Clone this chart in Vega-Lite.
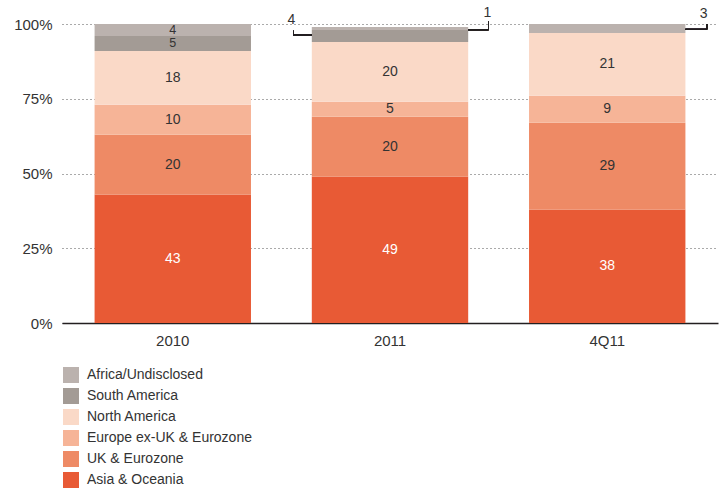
{
  "$schema": "https://vega.github.io/schema/vega-lite/v6.json",
  "width": 656,
  "height": 299,
  "autosize": "none",
  "padding": {"left": 62, "top": 24, "right": 2, "bottom": 166},
  "config": {
    "font": "Liberation Sans",
    "view": {"stroke": null},
    "text": {"font": "Liberation Sans", "fontSize": 14}
  },
  "data": {
    "values": [
      {"period": "2010", "region": "Asia & Oceania", "value": 43},
      {"period": "2010", "region": "UK & Eurozone", "value": 20},
      {"period": "2010", "region": "Europe ex-UK & Eurozone", "value": 10},
      {"period": "2010", "region": "North America", "value": 18},
      {"period": "2010", "region": "South America", "value": 5},
      {"period": "2010", "region": "Africa/Undisclosed", "value": 4},
      {"period": "2011", "region": "Asia & Oceania", "value": 49},
      {"period": "2011", "region": "UK & Eurozone", "value": 20},
      {"period": "2011", "region": "Europe ex-UK & Eurozone", "value": 5},
      {"period": "2011", "region": "North America", "value": 20},
      {"period": "2011", "region": "South America", "value": 4},
      {"period": "2011", "region": "Africa/Undisclosed", "value": 1},
      {"period": "4Q11", "region": "Asia & Oceania", "value": 38},
      {"period": "4Q11", "region": "UK & Eurozone", "value": 29},
      {"period": "4Q11", "region": "Europe ex-UK & Eurozone", "value": 9},
      {"period": "4Q11", "region": "North America", "value": 21},
      {"period": "4Q11", "region": "South America", "value": 0},
      {"period": "4Q11", "region": "Africa/Undisclosed", "value": 3}
    ]
  },
  "transform": [
    {"calculate": "indexof(['Asia & Oceania','UK & Eurozone','Europe ex-UK & Eurozone','North America','South America','Africa/Undisclosed'], datum.region)", "as": "rank"}
  ],
  "layer": [
    {
      "mark": {"type": "bar"},
      "encoding": {
        "x": {
          "field": "period", "type": "nominal",
          "scale": {"paddingInner": 0.28, "paddingOuter": 0.15},
          "axis": {
            "title": null, "labelAngle": 0, "ticks": false,
            "domain": true, "domainColor": "#231f20", "domainWidth": 1.5,
            "labelFontSize": 15, "labelColor": "#333333", "labelPadding": 10
          }
        },
        "y": {
          "field": "value", "type": "quantitative", "stack": "zero",
          "scale": {"domain": [0, 100]},
          "axis": {
            "title": null, "values": [0, 25, 50, 75, 100],
            "labelExpr": "datum.value + '%'",
            "domain": false, "ticks": false,
            "grid": true, "gridDash": [1, 3], "gridColor": "#555555", "gridWidth": 1,
            "labelFontSize": 15, "labelColor": "#333333", "labelPadding": 10
          }
        },
        "color": {
          "field": "region", "type": "nominal",
          "scale": {
            "domain": ["Africa/Undisclosed", "South America", "North America", "Europe ex-UK & Eurozone", "UK & Eurozone", "Asia & Oceania"],
            "range": ["#BBB2AE", "#A39B95", "#FAD9C7", "#F6B497", "#EE8A65", "#E85A35"]
          },
          "legend": {
            "title": null, "orient": "none", "legendX": 1, "legendY": 343,
            "symbolType": "square", "symbolSize": 256, "symbolStrokeWidth": 0,
            "symbolOpacity": 1, "labelFontSize": 14, "labelColor": "#333333",
            "labelOffset": 8, "rowPadding": 5, "padding": 0, "labelLimit": 400
          }
        },
        "order": {"field": "rank", "type": "quantitative"}
      }
    },
    {
      "transform": [
        {"stack": "value", "groupby": ["period"], "sort": [{"field": "rank"}], "as": ["y0", "y1"]},
        {"calculate": "(datum.y0 + datum.y1) / 2", "as": "mid"},
        {"filter": "datum.value > 0 && !(datum.period !== '2010' && datum.value < 6 && datum.region !== 'Europe ex-UK & Eurozone')"}
      ],
      "mark": {"type": "text", "baseline": "middle", "fontSize": 14},
      "encoding": {
        "x": {"field": "period", "type": "nominal"},
        "y": {"field": "mid", "type": "quantitative"},
        "text": {"field": "value", "type": "quantitative"},
        "size": {"condition": {"test": "datum.value < 6 && datum.period === '2010'", "value": 12.5}, "value": 14},
        "color": {"condition": {"test": "datum.region === 'Asia & Oceania'", "value": "#ffffff"}, "value": "#333333"}
      }
    },
    {
      "transform": [{"filter": "datum.period === '2011' && datum.region === 'South America'"}],
      "mark": {"type": "text", "baseline": "middle", "fontSize": 14, "dx": -98.5, "color": "#333333"},
      "encoding": {
        "x": {"field": "period", "type": "nominal"},
        "y": {"datum": 101.5, "type": "quantitative"},
        "text": {"field": "value", "type": "quantitative"}
      }
    },
    {
      "transform": [{"filter": "datum.period === '2011' && datum.region === 'Africa/Undisclosed'"}],
      "mark": {"type": "text", "baseline": "middle", "fontSize": 14, "dx": 97.5, "color": "#333333"},
      "encoding": {
        "x": {"field": "period", "type": "nominal"},
        "y": {"datum": 103.7, "type": "quantitative"},
        "text": {"field": "value", "type": "quantitative"}
      }
    },
    {
      "transform": [{"filter": "datum.period === '4Q11' && datum.region === 'Africa/Undisclosed'"}],
      "mark": {"type": "text", "baseline": "middle", "fontSize": 14, "dx": 96.5, "color": "#333333"},
      "encoding": {
        "x": {"field": "period", "type": "nominal"},
        "y": {"datum": 103.5, "type": "quantitative"},
        "text": {"field": "value", "type": "quantitative"}
      }
    },
    {
      "mark": {"type": "rule", "color": "#231f20", "strokeWidth": 1, "xOffset": -96.5},
      "encoding": {
        "x": {"datum": "2011", "type": "nominal"},
        "y": {"datum": 96.3, "type": "quantitative"},
        "y2": {"datum": 97.7}
      }
    },
    {
      "mark": {"type": "rule", "color": "#231f20", "strokeWidth": 1, "xOffset": -96.5, "x2Offset": -78.2},
      "encoding": {
        "x": {"datum": "2011", "type": "nominal"},
        "x2": {"datum": "2011"},
        "y": {"datum": 96.3, "type": "quantitative"}
      }
    },
    {
      "mark": {"type": "rule", "color": "#231f20", "strokeWidth": 1, "xOffset": 98.5},
      "encoding": {
        "x": {"datum": "2011", "type": "nominal"},
        "y": {"datum": 98.1, "type": "quantitative"},
        "y2": {"datum": 101}
      }
    },
    {
      "mark": {"type": "rule", "color": "#231f20", "strokeWidth": 1, "xOffset": 78.2, "x2Offset": 98.5},
      "encoding": {
        "x": {"datum": "2011", "type": "nominal"},
        "x2": {"datum": "2011"},
        "y": {"datum": 98.1, "type": "quantitative"}
      }
    },
    {
      "mark": {"type": "rule", "color": "#231f20", "strokeWidth": 1, "xOffset": 99.5},
      "encoding": {
        "x": {"datum": "4Q11", "type": "nominal"},
        "y": {"datum": 98.2, "type": "quantitative"},
        "y2": {"datum": 100}
      }
    },
    {
      "mark": {"type": "rule", "color": "#231f20", "strokeWidth": 1, "xOffset": 78.2, "x2Offset": 99.5},
      "encoding": {
        "x": {"datum": "4Q11", "type": "nominal"},
        "x2": {"datum": "4Q11"},
        "y": {"datum": 98.2, "type": "quantitative"}
      }
    }
  ]
}
